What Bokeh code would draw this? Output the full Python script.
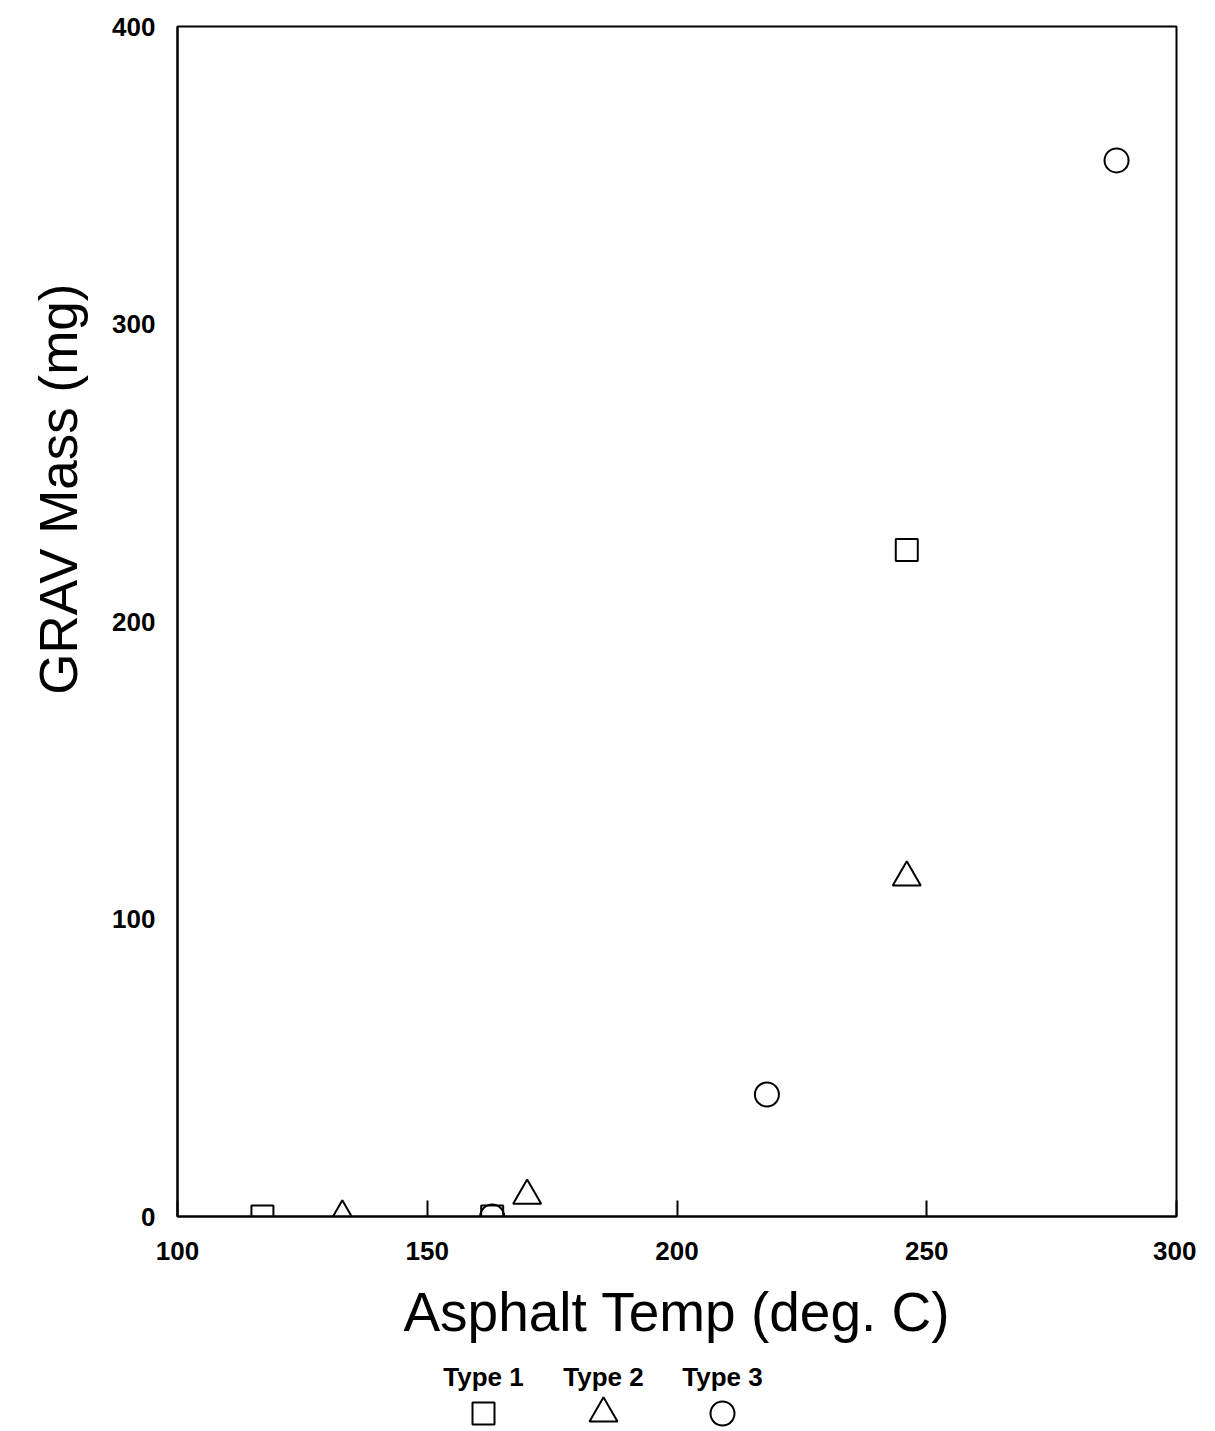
from bokeh.plotting import figure
from bokeh.layouts import column
from bokeh.models import Range1d, FixedTicker, Title
from bokeh.core.properties import value
from bokeh.embed import file_html
from bokeh.resources import INLINE

# ---- data ----
type1_x = [117, 163, 246]
type1_y = [0, 0, 224]
type2_x = [133, 170, 246]
type2_y = [0, 7, 114]
type3_x = [163, 218, 288]
type3_y = [0, 41, 355]

x_ticks = [100, 150, 200, 250, 300]
y_ticks = [0, 100, 200, 300, 400]
series_names = ["Type 1", "Type 2", "Type 3"]
series_markers = ["square", "triangle", "circle"]
x_title = "Asphalt Temp (deg. C)"
y_title = "GRAV Mass (mg)"

LABEL_FONT = "Liberation Sans"
TICK_FONT = "Liberation Sans"

BL, BR, FW, FH, BT = 177, 20, 999, 1190, 26

p = figure(
    frame_width=FW, frame_height=FH,
    min_border_left=BL, min_border_top=BT, min_border_right=BR, min_border_bottom=128,
    x_range=Range1d(100, 300), y_range=Range1d(0, 400),
    output_backend="svg", toolbar_location=None,
)
p.grid.visible = False
p.outline_line_color = "black"
p.outline_line_width = 2
p.background_fill_color = "white"
p.border_fill_color = "white"

p.xaxis.ticker = FixedTicker(ticks=x_ticks)
p.yaxis.ticker = FixedTicker(ticks=y_ticks)
for ax in (p.xaxis, p.yaxis):
    ax.axis_line_color = "black"
    ax.axis_line_width = 2
    ax.minor_tick_line_color = None
    ax.major_label_text_font = TICK_FONT
    ax.major_label_text_font_style = "bold"
    ax.major_label_text_font_size = "26px"
    ax.major_label_text_color = "black"
    ax.axis_label_text_font = LABEL_FONT
    ax.axis_label_text_font_style = "normal"
    ax.axis_label_text_font_size = "55px"
    ax.axis_label_text_color = "black"

p.xaxis.axis_label = x_title
p.xaxis.major_tick_in = 16
p.xaxis.major_tick_out = 0
p.xaxis.major_tick_line_width = 2
p.yaxis.major_tick_in = 0
p.yaxis.major_tick_out = 0
p.xaxis.major_label_standoff = 25
p.yaxis.major_label_standoff = 22
p.xaxis.axis_label_standoff = 18

# y title sits above the frame's middle in the reference
p.add_layout(Title(text=y_title, align="right", offset=257, standoff=44,
                   text_font=LABEL_FONT, text_font_size="53px",
                   text_font_style="normal", text_color="black"), "left")

p.scatter(type1_x, type1_y, marker="square", size=22, fill_color=None,
          line_color="black", line_width=2)
p.scatter(type2_x, type2_y, marker="triangle", size=28, fill_color=None,
          line_color="black", line_width=2)
p.scatter(type3_x, type3_y, marker="circle", size=24, fill_color=None,
          line_color="black", line_width=2)

# ---- legend row below the chart (label above marker) ----
leg_h = 84
lg = figure(
    frame_width=FW, frame_height=leg_h,
    min_border_left=BL, min_border_right=BR, min_border_top=0, min_border_bottom=0,
    x_range=Range1d(0, FW), y_range=Range1d(leg_h, 0),
    output_backend="svg", toolbar_location=None,
)
lg.axis.visible = False
lg.grid.visible = False
lg.outline_line_color = None
leg_x = [306, 426, 545]
lg.text(x=leg_x, y=[31, 31, 31], text=series_names,
        text_font=value(TICK_FONT), text_font_style="bold",
        text_font_size="26px", text_align="center", text_baseline="middle",
        text_color="black")
sizes = [22, 28, 24]
for xx, mk, sz in zip(leg_x, series_markers, sizes):
    lg.scatter([xx], [68], marker=mk, size=sz, fill_color=None,
               line_color="black", line_width=2)

layout = column(p, lg, spacing=0)
open("out.html", "w").write(file_html(layout, INLINE))
